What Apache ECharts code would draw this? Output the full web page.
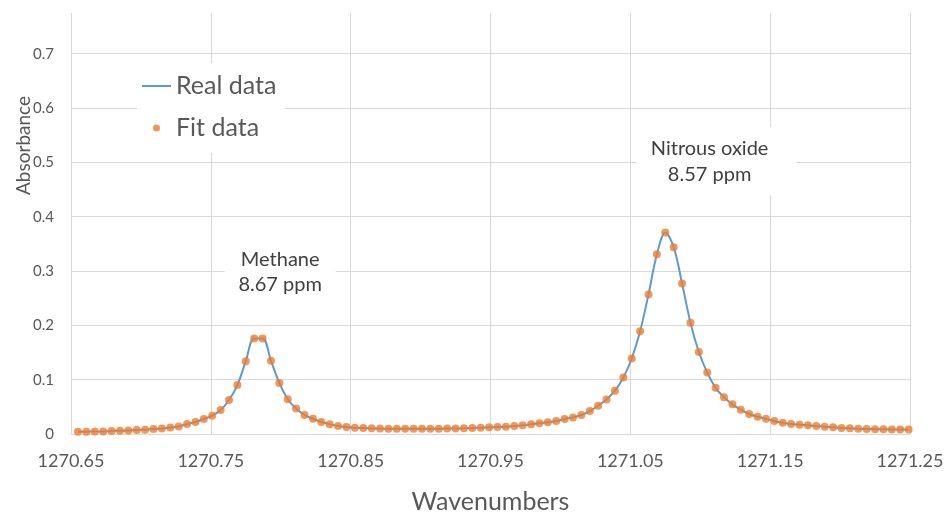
<!DOCTYPE html>
<html>
<head>
<meta charset="utf-8">
<script src="https://cdn.jsdelivr.net/npm/echarts@6/dist/echarts.min.js"></script>
<style>
html,body{margin:0;padding:0;background:#fff;}
#chart{width:946px;height:513px;}
</style>
</head>
<body>
<div id="chart"></div>
<script>
const wavenumbers = [
  1270.655, 1270.661, 1270.667, 1270.673, 1270.679, 1270.685, 1270.691, 1270.697, 1270.703, 1270.709,
  1270.715, 1270.721, 1270.727, 1270.733, 1270.739, 1270.745, 1270.751, 1270.757, 1270.763, 1270.769,
  1270.775, 1270.781, 1270.787, 1270.793, 1270.799, 1270.805, 1270.811, 1270.817, 1270.823, 1270.829,
  1270.835, 1270.841, 1270.847, 1270.853, 1270.859, 1270.865, 1270.871, 1270.877, 1270.883, 1270.889,
  1270.895, 1270.901, 1270.907, 1270.913, 1270.919, 1270.925, 1270.931, 1270.937, 1270.943, 1270.949,
  1270.955, 1270.961, 1270.967, 1270.973, 1270.979, 1270.985, 1270.991, 1270.997, 1271.003, 1271.009,
  1271.015, 1271.021, 1271.027, 1271.033, 1271.039, 1271.045, 1271.051, 1271.057, 1271.063, 1271.069,
  1271.075, 1271.081, 1271.087, 1271.093, 1271.099, 1271.105, 1271.111, 1271.117, 1271.123, 1271.129,
  1271.135, 1271.141, 1271.147, 1271.153, 1271.159, 1271.165, 1271.171, 1271.177, 1271.183, 1271.189,
  1271.195, 1271.201, 1271.207, 1271.213, 1271.219, 1271.225, 1271.231, 1271.237, 1271.243, 1271.249
];

// Real data (absorbance)
const realData = [
  0.0042, 0.0043, 0.0045, 0.0048, 0.0055, 0.0060, 0.0064, 0.0074, 0.0080, 0.0092,
  0.0100, 0.0118, 0.0140, 0.0182, 0.0220, 0.0276, 0.0337, 0.0440, 0.0625, 0.0900,
  0.1340, 0.1760, 0.1760, 0.1350, 0.0940, 0.0640, 0.0470, 0.0350, 0.0280, 0.0220,
  0.0180, 0.0147, 0.0129, 0.0116, 0.0110, 0.0104, 0.0100, 0.0098, 0.0097, 0.0096,
  0.0096, 0.0096, 0.0097, 0.0098, 0.0100, 0.0102, 0.0104, 0.0110, 0.0116, 0.0122,
  0.0129, 0.0135, 0.0147, 0.0160, 0.0178, 0.0196, 0.0215, 0.0239, 0.0276, 0.0306,
  0.0349, 0.0423, 0.0520, 0.0637, 0.0797, 0.1040, 0.1390, 0.1890, 0.2570, 0.3310,
  0.3710, 0.3440, 0.2770, 0.2050, 0.1510, 0.1130, 0.0850, 0.0675, 0.0546, 0.0447,
  0.0368, 0.0318, 0.0280, 0.0240, 0.0208, 0.0184, 0.0172, 0.0160, 0.0147, 0.0135,
  0.0122, 0.0110, 0.0104, 0.0097, 0.0092, 0.0088, 0.0086, 0.0085, 0.0084, 0.0084
];

// Fit data (absorbance)
const fitData = [
  0.0042, 0.0043, 0.0045, 0.0048, 0.0055, 0.0060, 0.0064, 0.0074, 0.0080, 0.0092,
  0.0100, 0.0118, 0.0140, 0.0182, 0.0220, 0.0276, 0.0337, 0.0440, 0.0625, 0.0900,
  0.1340, 0.1760, 0.1760, 0.1350, 0.0940, 0.0640, 0.0470, 0.0350, 0.0280, 0.0220,
  0.0180, 0.0147, 0.0129, 0.0116, 0.0110, 0.0104, 0.0100, 0.0098, 0.0097, 0.0096,
  0.0096, 0.0096, 0.0097, 0.0098, 0.0100, 0.0102, 0.0104, 0.0110, 0.0116, 0.0122,
  0.0129, 0.0135, 0.0147, 0.0160, 0.0178, 0.0196, 0.0215, 0.0239, 0.0276, 0.0306,
  0.0349, 0.0423, 0.0520, 0.0637, 0.0797, 0.1040, 0.1390, 0.1890, 0.2570, 0.3310,
  0.3710, 0.3440, 0.2770, 0.2050, 0.1510, 0.1130, 0.0850, 0.0675, 0.0546, 0.0447,
  0.0368, 0.0318, 0.0280, 0.0240, 0.0208, 0.0184, 0.0172, 0.0160, 0.0147, 0.0135,
  0.0122, 0.0110, 0.0104, 0.0097, 0.0092, 0.0088, 0.0086, 0.0085, 0.0084, 0.0084
];

const seriesNames = ['Real data', 'Fit data'];
const xTicks = ['1270.65', '1270.75', '1270.85', '1270.95', '1271.05', '1271.15', '1271.25'];
const yTicks = ['0', '0.1', '0.2', '0.3', '0.4', '0.5', '0.6', '0.7'];

// Peak annotations: [wavenumber, absorbance, text]
const annotations = [
  { name: 'Methane', at: [1270.7996, 0.298], text: 'Methane\n8.67 ppm' },
  { name: 'Nitrous oxide', at: [1271.1117, 0.502], text: 'Nitrous oxide\n8.57 ppm' }
];

const FONT = 'Lato, "Open Sans", sans-serif';
const GRID = '#d9d9d9';

const realPts = wavenumbers.map((x, i) => [x, realData[i]]);
const fitPts = wavenumbers.map((x, i) => [x, fitData[i]]);

const chart = echarts.init(document.getElementById('chart'), null, { renderer: 'canvas' });
chart.setOption({
  animation: false,
  backgroundColor: '#fff',
  textStyle: { fontFamily: FONT },
  grid: { left: 71, right: 36, top: 13, bottom: 79, containLabel: false, outerBoundsMode: 'none' },
  legend: {
    orient: 'vertical',
    left: 137,
    top: 63,
    padding: [10, 9, 12, 5],
    backgroundColor: '#fff',
    itemWidth: 29,
    itemHeight: 7,
    itemGap: 16,
    textStyle: { fontSize: 25, color: '#595959', fontFamily: FONT, lineHeight: 26 },
    data: [
      { name: seriesNames[0], icon: 'path://M0,0H29V2H0Z' },
      { name: seriesNames[1], icon: 'circle' }
    ]
  },
  xAxis: {
    type: 'value',
    min: 1270.65,
    max: 1271.25,
    interval: 0.1,
    name: 'Wavenumbers',
    nameLocation: 'middle',
    nameGap: 55,
    nameMoveOverlap: false,
    nameTextStyle: { fontSize: 25, color: '#595959', fontFamily: FONT },
    axisLine: { show: true, lineStyle: { color: GRID, width: 1 } },
    axisTick: { show: false },
    axisLabel: {
      margin: 18,
      fontSize: 18,
      color: '#595959',
      fontFamily: FONT,
      formatter: function (v) {
        const idx = Math.round((v - 1270.65) / 0.1);
        return xTicks[idx] !== undefined ? xTicks[idx] : '';
      }
    },
    splitLine: { show: true, lineStyle: { color: GRID, width: 1 } }
  },
  yAxis: {
    type: 'value',
    min: 0,
    max: 0.775,
    interval: 0.1,
    name: 'Absorbance',
    nameLocation: 'middle',
    nameGap: 38,
    nameRotate: 90,
    nameMoveOverlap: false,
    nameTextStyle: { fontSize: 19, color: '#595959', fontFamily: FONT, padding: [0, 0, 0, 156] },
    axisLine: { show: false },
    axisTick: { show: false },
    axisLabel: {
      margin: 17,
      fontSize: 15,
      color: '#595959',
      fontFamily: FONT,
      showMaxLabel: false,
      formatter: function (v) {
        const idx = Math.round(v / 0.1);
        return Math.abs(v - idx * 0.1) < 1e-6 && yTicks[idx] !== undefined ? yTicks[idx] : '';
      }
    },
    splitLine: {
      show: true,
      lineStyle: {
        color: [GRID, GRID, GRID, GRID, GRID, GRID, GRID, GRID, 'rgba(0,0,0,0)'],
        width: 1
      }
    }
  },
  series: [
    {
      name: seriesNames[0],
      type: 'line',
      data: realPts,
      smooth: 0.35,
      showSymbol: false,
      symbol: 'none',
      color: '#5B9BD5',
      lineStyle: { color: '#5B9BD5', width: 2 },
      z: 2
    },
    {
      name: seriesNames[1],
      type: 'scatter',
      data: fitPts,
      symbol: 'circle',
      symbolSize: 8,
      color: '#ED7D31',
      itemStyle: { color: '#ED7D31' },
      z: 3,
      markPoint: {
        silent: true,
        symbol: 'rect',
        itemStyle: { color: '#fff' },
        data: [
          {
            name: annotations[0].name,
            coord: annotations[0].at,
            symbolSize: [111, 58],
            label: {
              show: true, position: 'inside', formatter: annotations[0].text,
              color: '#404040', fontSize: 20, lineHeight: 25, fontFamily: FONT, align: 'center'
            }
          },
          {
            name: annotations[1].name,
            coord: annotations[1].at,
            symbolSize: [160, 68],
            label: {
              show: true, position: 'inside', formatter: annotations[1].text,
              color: '#404040', fontSize: 20, lineHeight: 26, fontFamily: FONT,
              align: 'center', offset: [-7, 0]
            }
          }
        ]
      }
    }
  ]
});
</script>
</body>
</html>
